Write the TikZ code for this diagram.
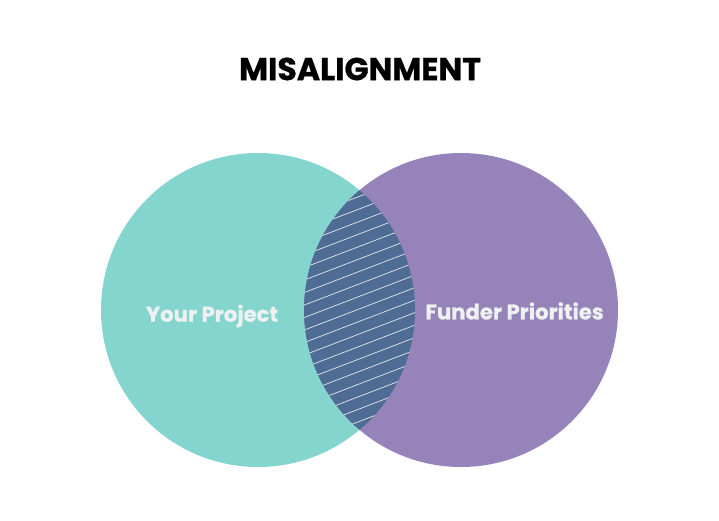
\documentclass[tikz,border=0pt]{standalone}
\usepackage{fontspec}
\setmainfont{Poppins}
\newfontfamily\heavy{Poppins}[UprightFont=* Bold, FakeBold=0.8]
\definecolor{teal}{HTML}{85D5CF}
\definecolor{purp}{HTML}{9683B9}
\definecolor{lens}{HTML}{4E6C94}
\definecolor{lbl}{HTML}{EEF1F1}
\tikzset{
  lbltext/.style={text=lbl, font=\heavy\fontsize{21.2}{25}\selectfont, inner sep=0pt},
  hatch/.style={draw=white!85!lens, line width=0.7pt}
}
\begin{document}
\begin{tikzpicture}[x=1pt,y=-1pt]
\useasboundingbox (0,0) rectangle (719,520);
\fill[white] (0,0) rectangle (719,520);
\node[font=\heavy\fontsize{31.6}{37}\selectfont, inner sep=0pt] (title) at (360,69) {MISALIGNMENT};
\fill[teal] (258,310) circle (157);
\fill[purp] (461,310) circle (157);
\begin{scope}
  \clip (258,310) circle (157);
  \fill[lens] (461,310) circle (157);
  \clip (461,310) circle (157);
  \foreach \k in {-14,...,16} {
    \draw[hatch] (290,{310+12.5*\k+13}) -- (430,{310+12.5*\k+13-53.7});
  }
\end{scope}
\node[lbltext] (yp) at (212,316) {Your Project};
\node[lbltext] (fp) at (514.5,311) {Funder Priorities};
\end{tikzpicture}
\end{document}
